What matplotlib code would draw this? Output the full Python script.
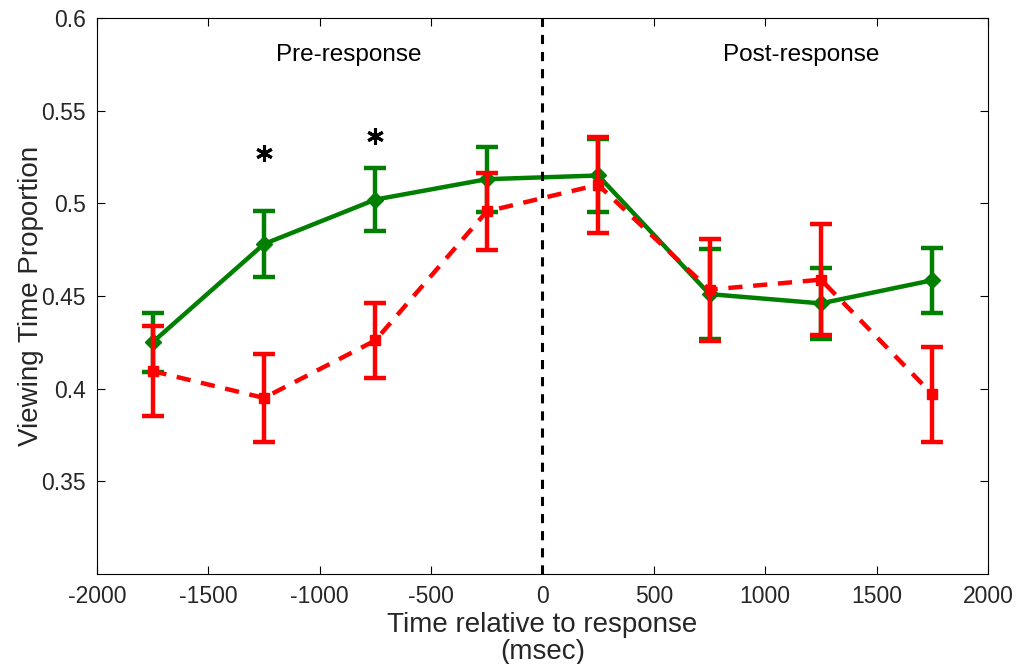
import matplotlib
matplotlib.use('Agg')
import matplotlib.pyplot as plt

plt.rcParams['font.family'] = ['Liberation Sans', 'DejaVu Sans']
plt.rcParams['axes.unicode_minus'] = False

t = [-1750, -1250, -750, -250, 250, 750, 1250, 1750]

green = [0.425, 0.478, 0.502, 0.513, 0.515, 0.451, 0.446, 0.4585]
green_err = [0.016, 0.0176, 0.017, 0.0176, 0.0197, 0.0243, 0.019, 0.0176]

red = [0.4095, 0.395, 0.426, 0.4956, 0.510, 0.4534, 0.4588, 0.397]
red_err = [0.0243, 0.0238, 0.020, 0.021, 0.026, 0.0276, 0.0298, 0.0257]

# significance stars
star_x = [-1250, -750]
star_y = [0.527, 0.5365]

fig = plt.figure(figsize=(10.19, 6.64), dpi=100)
ax = fig.add_axes([0.095, 0.1355, 0.8746, 0.8375])

ax.errorbar(t, green, yerr=green_err, color='#007f00', lw=3.2, ls='-',
            marker='D', ms=8, elinewidth=3.2, capsize=8, capthick=3.2, zorder=3)
ax.errorbar(t, red, yerr=red_err, color='#ff0000', lw=3.2, ls=(0, (3.2, 2.4)),
            marker='s', ms=7.5, elinewidth=3.2, capsize=8, capthick=3.2, zorder=4)

ax.axvline(0, color='black', lw=2.2, ls=(0, (3, 2.6)), zorder=5)

ax.plot(star_x, star_y, ls='none', marker=(6, 2, 0), ms=12, mew=2.2, color='black')

ax.text(-870, 0.580, 'Pre-response', ha='center', va='center', fontsize=17.5)
ax.text(1160, 0.580, 'Post-response', ha='center', va='center', fontsize=17.5)

ax.set_xlim(-2000, 2000)
ax.set_ylim(0.3, 0.6)
ax.set_xticks(range(-2000, 2001, 500))
ax.set_yticks([0.35, 0.4, 0.45, 0.5, 0.55, 0.6])
ax.set_yticklabels(['0.35', '0.4', '0.45', '0.5', '0.55', '0.6'])
ax.tick_params(direction='in', top=True, right=True, length=6, width=0.8,
               labelsize=16.5, labelcolor='#262626', pad=8)
for s in ax.spines.values():
    s.set_linewidth(0.8)

ax.set_xlabel('Time relative to response\n(msec)', fontsize=20, color='#262626',
              linespacing=1.05, labelpad=3)
ax.set_ylabel('Viewing Time Proportion', fontsize=20, color='#262626', labelpad=-2)

fig.savefig('out.png', dpi=100)
